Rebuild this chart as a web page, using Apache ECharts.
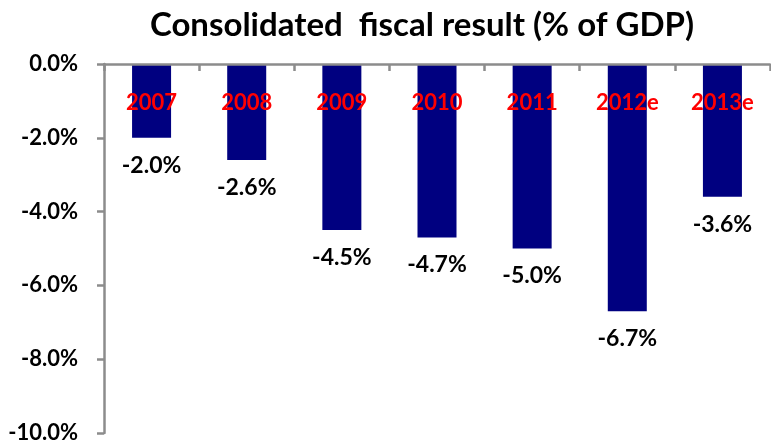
<!DOCTYPE html>
<html>
<head>
<meta charset="utf-8">
<script src="https://cdn.jsdelivr.net/npm/echarts@6/dist/echarts.min.js"></script>
<style>html,body{margin:0;padding:0;background:#fff}#c{width:771px;height:441px}</style>
</head>
<body>
<div id="c"></div>
<script>
const categories = ['2007', '2008', '2009', '2010', '2011', '2012e', '2013e'];
const values = [-2.0, -2.6, -4.5, -4.7, -5.0, -6.7, -3.6];
const yTicks = [0, -2, -4, -6, -8, -10];

const chart = echarts.init(document.getElementById('c'), null, {renderer: 'canvas'});
const FONT = 'Lato';
chart.setOption({
  animation: false,
  backgroundColor: '#ffffff',
  title: {
    text: 'Consolidated  fiscal result (% of GDP)',
    left: 417, top: 4, textAlign: 'center',
    textStyle: {fontFamily: FONT, fontWeight: 'bold', fontSize: 33, color: '#000'}
  },
  grid: {left: 104, right: 1, top: 64, bottom: 8, containLabel: false, outerBoundsMode: 'none'},
  xAxis: {
    type: 'category',
    data: categories,
    position: 'top',
    z: 10,
    axisLine: {onZero: false, lineStyle: {color: '#8c8c8c', width: 2.5}},
    axisTick: {show: true, inside: true, length: 7, lineStyle: {color: '#8c8c8c', width: 2.5}},
    axisLabel: {inside: true, margin: 28, color: '#ff0000', fontFamily: FONT, fontWeight: 'bold', fontSize: 22},
    splitLine: {show: false}
  },
  yAxis: {
    type: 'value',
    min: -10, max: 0, interval: 2,
    axisLine: {show: true, lineStyle: {color: '#8c8c8c', width: 2.5}},
    axisTick: {show: true, length: 7, lineStyle: {color: '#8c8c8c', width: 2.5}},
    axisLabel: {margin: 26, color: '#000', fontFamily: FONT, fontWeight: 'bold', fontSize: 22,
      formatter: v => v.toFixed(1) + '%'},
    splitLine: {show: false}
  },
  series: [{
    type: 'bar',
    data: values,
    barWidth: '41%',
    itemStyle: {color: '#000080'},
    label: {
      show: true, position: 'bottom', distance: 16,
      color: '#000', fontFamily: FONT, fontWeight: 'bold', fontSize: 23,
      formatter: p => p.value.toFixed(1) + '%'
    }
  }]
});
</script>
</body>
</html>
